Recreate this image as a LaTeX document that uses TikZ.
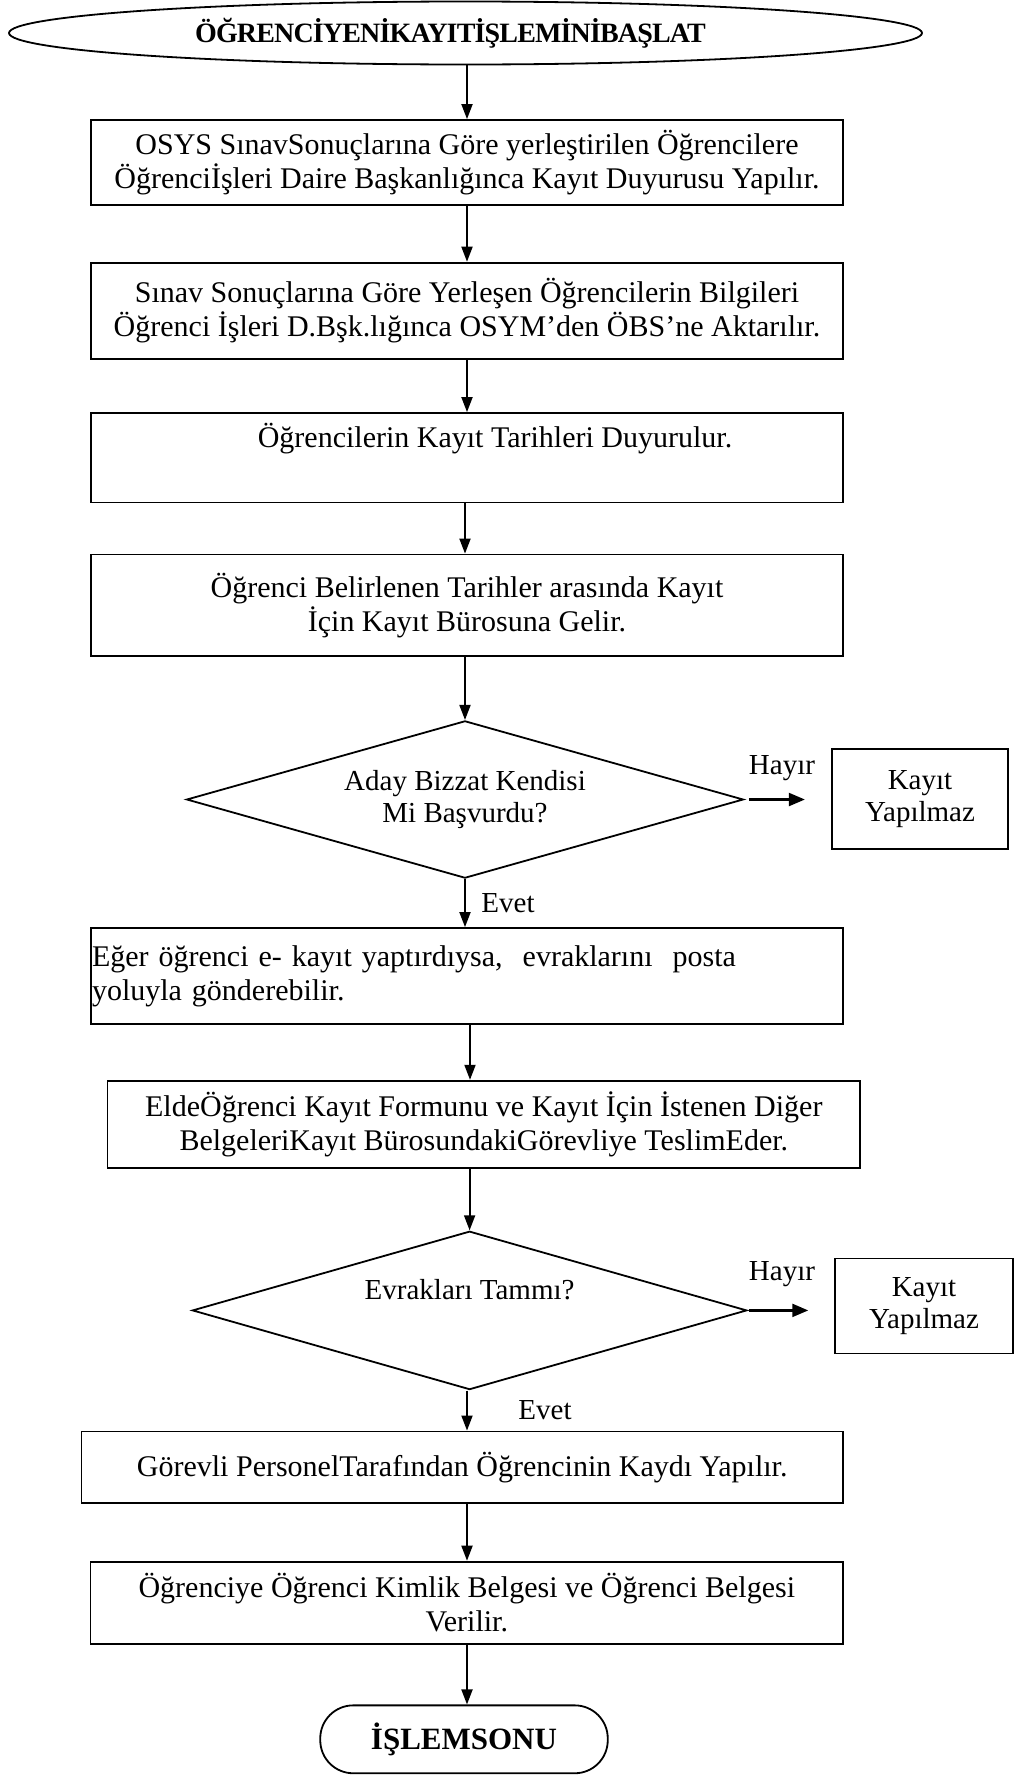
\documentclass[tikz,border=0pt]{standalone}
\usepackage{fontspec}
\setmainfont{Liberation Serif}
\usetikzlibrary{shapes.geometric,arrows.meta}
\newcommand\bodysize{\fontsize{30}{34}\selectfont}
\newcommand\smallsize{\fontsize{29}{32}\selectfont}
\begin{document}
\begin{tikzpicture}[x=1pt,y=-1pt,
  box/.style={draw, rectangle, line width=1.8pt, inner sep=0pt, align=center, font=\bodysize},
  decision/.style={draw, diamond, aspect=3.54, line width=1.8pt, inner sep=0pt, align=center, font=\smallsize},
  lbl/.style={font=\smallsize, inner sep=0pt},
  arr/.style={line width=1.8pt, -{Triangle[length=15pt,width=11pt]}},
  sidearr/.style={line width=2.2pt, -{Triangle[length=16pt,width=13pt]}}]
\useasboundingbox (0,0) rectangle (1023,1775);

% start / end terminals
\node[draw, ellipse, line width=1.8pt, inner sep=0pt, minimum width=913pt, minimum height=63pt,
      font=\fontsize{28}{34}\selectfont\bfseries\addfontfeature{LetterSpace=-3}] (start) at (465.5,33)
  {ÖĞRENCİYENİKAYITİŞLEMİNİBAŞLAT\hspace*{30pt}};
\node[draw, rectangle, rounded corners=33pt, line width=1.8pt, minimum width=287.5pt, minimum height=67.9pt,
      font=\fontsize{31}{34}\selectfont\bfseries] (stop) at (464,1739.3) {İŞLEMSONU};

% process steps
\node[box, minimum width=752.5pt, minimum height=85pt] (b1) at (467,162.5)
  {OSYS SınavSonuçlarına Göre yerleştirilen Öğrencilere\\Öğrenciİşleri Daire Başkanlığınca Kayıt Duyurusu Yapılır.};
\node[box, minimum width=752.5pt, minimum height=96pt] (b2) at (467,310.6)
  {Sınav Sonuçlarına Göre Yerleşen Öğrencilerin Bilgileri\\Öğrenci İşleri D.Bşk.lığınca OSYM’den ÖBS’ne Aktarılır.};
\node[box, minimum width=752.5pt, minimum height=89.4pt] (b3) at (467,457.7)
  {\hspace*{56pt}Öğrencilerin Kayıt Tarihleri Duyurulur.\\ \strut};
\node[box, minimum width=752.5pt, minimum height=101.8pt] (b4) at (467,605.4)
  {Öğrenci Belirlenen Tarihler arasında Kayıt\\İçin Kayıt Bürosuna Gelir.};
\node[decision, minimum width=556.8pt, minimum height=157.3pt] (d1) at (465,799.5)
  {Aday Bizzat Kendisi\\Mi Başvurdu?};
\node[box, font=\smallsize, minimum width=176.5pt, minimum height=99.6pt] (n1) at (920,798.9)
  {Kayıt\\Yapılmaz};
\node[box, align=left, inner xsep=1pt, text width=750pt, minimum height=96pt] (b5) at (467,976)
  {Eğer öğrenci e- kayıt yaptırdıysa,\ \ evraklarını\ \ posta\\yoluyla gönderebilir.};
\node[box, minimum width=752.5pt, minimum height=87pt] (b6) at (483.8,1124.2)
  {EldeÖğrenci Kayıt Formunu ve Kayıt İçin İstenen Diğer\\BelgeleriKayıt BürosundakiGörevliye TeslimEder.};
\node[decision, minimum width=554.5pt, minimum height=158.4pt] (d2) at (469.6,1310.4)
  {Evrakları Tammı?\\ \strut};
\node[box, font=\smallsize, minimum width=177.7pt, minimum height=95pt] (n2) at (924,1305.9)
  {Kayıt\\Yapılmaz};
\node[box, minimum width=761.5pt, minimum height=71.3pt] (b7) at (462.2,1467.1)
  {Görevli PersonelTarafından Öğrencinin Kaydı Yapılır.};
\node[box, minimum width=752.5pt, minimum height=82.6pt] (b8) at (466.8,1602.9)
  {Öğrenciye Öğrenci Kimlik Belgesi ve Öğrenci Belgesi\\Verilir.};

% branch labels
\node[lbl] (h1) at (782,768.4) {Hayır};
\node[lbl] (h2) at (782,1274.2) {Hayır};
\node[lbl] (e1) at (508,903) {Evet};
\node[lbl] (e2) at (545,1410) {Evet};

% connectors
\coordinate (sp) at (467,0);
\coordinate (sq) at (470,0);
\draw[arr] (start.south -| sp) -- (b1.north -| sp);
\draw[arr] (b1.south -| sp) -- (b2.north -| sp);
\draw[arr] (b2.south -| sp) -- (b3.north -| sp);
\draw[arr] (b3.south -| d1.north) -- (b4.north -| d1.north);
\draw[arr] (b4.south -| d1.north) -- (d1.north);
\draw[arr] (d1.south) -- (b5.north -| d1.south);
\draw[sidearr, shorten <=4.5pt, shorten >=26pt] (d1.east) -- (n1.west |- d1.east);
\draw[arr] (b5.south -| sq) -- (b6.north -| sq);
\draw[arr] (b6.south -| d2.north) -- (d2.north);
\draw[sidearr, shorten <=1.5pt, shorten >=26pt] (d2.east) -- (n2.west |- d2.east);
\draw[arr] (d2.south -| sp) -- (b7.north -| sp);
\draw[arr] (b7.south -| sp) -- (b8.north -| sp);
\draw[arr] (b8.south -| sp) -- (stop.north -| sp);
\end{tikzpicture}
\end{document}
